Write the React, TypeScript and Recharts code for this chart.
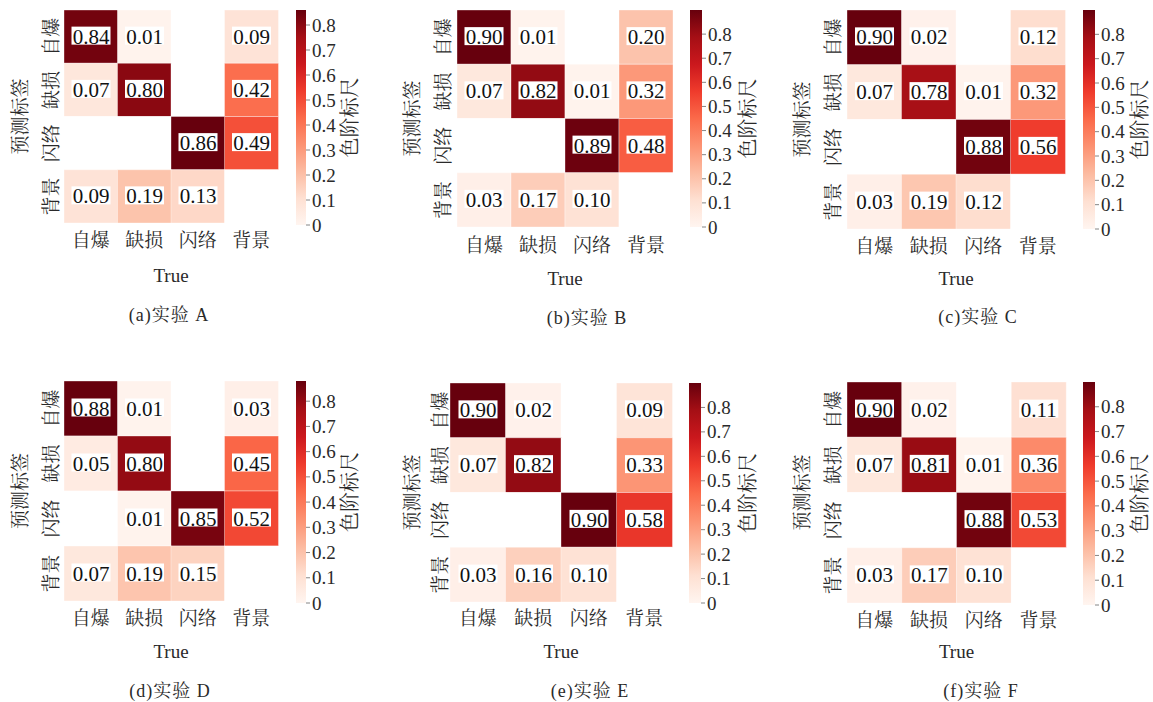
import React from 'react';
import { BarChart, Bar, XAxis, YAxis, Cell, LabelList, Label } from 'recharts';

const classLabels = ['自爆', '缺损', '闪络', '背景'];

const expA = [
  [0.84, 0.01, 0, 0.09],
  [0.07, 0.8, 0, 0.42],
  [0, 0, 0.86, 0.49],
  [0.09, 0.19, 0.13, 0],
];
const expB = [
  [0.9, 0.01, 0, 0.2],
  [0.07, 0.82, 0.01, 0.32],
  [0, 0, 0.89, 0.48],
  [0.03, 0.17, 0.1, 0],
];
const expC = [
  [0.9, 0.02, 0, 0.12],
  [0.07, 0.78, 0.01, 0.32],
  [0, 0, 0.88, 0.56],
  [0.03, 0.19, 0.12, 0],
];
const expD = [
  [0.88, 0.01, 0, 0.03],
  [0.05, 0.8, 0, 0.45],
  [0, 0.01, 0.85, 0.52],
  [0.07, 0.19, 0.15, 0],
];
const expE = [
  [0.9, 0.02, 0, 0.09],
  [0.07, 0.82, 0, 0.33],
  [0, 0, 0.9, 0.58],
  [0.03, 0.16, 0.1, 0],
];
const expF = [
  [0.9, 0.02, 0, 0.11],
  [0.07, 0.81, 0.01, 0.36],
  [0, 0, 0.88, 0.53],
  [0.03, 0.17, 0.1, 0],
];

const captions = ['(a)实验 A', '(b)实验 B', '(c)实验 C', '(d)实验 D', '(e)实验 E', '(f)实验 F'];
const colorbarTicks = [0, 0.1, 0.2, 0.3, 0.4, 0.5, 0.6, 0.7, 0.8];
const yTitle = '预测标签';
const xTitle = 'True';
const cbTitle = '色阶标尺';

const REDS = ['#fff5f0', '#fee0d2', '#fcbba1', '#fc9272', '#fb6a4a', '#ef3b2c', '#cb181d', '#a50f15', '#67000d'];
const SERIF = "'Liberation Serif', 'Noto Serif CJK SC', 'Noto Sans CJK SC', serif";
const TXT = '#2a2a2a';

function hexToRgb(h: string) {
  return [parseInt(h.slice(1, 3), 16), parseInt(h.slice(3, 5), 16), parseInt(h.slice(5, 7), 16)];
}
function reds(t: number) {
  const tt = Math.max(0, Math.min(1, t)) * (REDS.length - 1);
  const lo = Math.floor(tt);
  const hi = Math.min(REDS.length - 1, lo + 1);
  const f = tt - lo;
  const a = hexToRgb(REDS[lo]);
  const b = hexToRgb(REDS[hi]);
  const c = a.map((v, k) => Math.round(v + (b[k] - v) * f));
  return `rgb(${c[0]},${c[1]},${c[2]})`;
}

type Geo = {
  hx: number; hy: number; hw: number; hh: number;
  cbx: number; cbw: number; cbTop: number; cbBot: number;
  ylabX: number; rowLabX: number; colLabY: number; trueY: number;
  capX: number; capY: number; cbLabX: number;
};

const geos: Geo[] = [
  { hx: 64, hy: 10, hw: 214, hh: 213, cbx: 296, cbw: 10, cbTop: 10, cbBot: 225, ylabX: 20, rowLabX: 51, colLabY: 240, trueY: 275, capX: 169, capY: 315, cbLabX: 350 },
  { hx: 457, hy: 10, hw: 216, hh: 217, cbx: 690, cbw: 12, cbTop: 10, cbBot: 227, ylabX: 412, rowLabX: 443, colLabY: 245, trueY: 278, capX: 587, capY: 318, cbLabX: 748 },
  { hx: 847, hy: 10, hw: 218, hh: 219, cbx: 1083, cbw: 12, cbTop: 10, cbBot: 229, ylabX: 802, rowLabX: 833, colLabY: 246, trueY: 278, capX: 978, capY: 317, cbLabX: 1140 },
  { hx: 64, hy: 381, hw: 214, hh: 220, cbx: 296, cbw: 10, cbTop: 381, cbBot: 603, ylabX: 20, rowLabX: 51, colLabY: 618, trueY: 651, capX: 170, capY: 691, cbLabX: 350 },
  { hx: 450, hy: 383, hw: 222, hh: 219, cbx: 689, cbw: 12, cbTop: 383, cbBot: 603, ylabX: 412, rowLabX: 440, colLabY: 618, trueY: 651, capX: 590, capY: 691, cbLabX: 748 },
  { hx: 847, hy: 382, hw: 219, hh: 221, cbx: 1083, cbw: 12, cbTop: 382, cbBot: 605, ylabX: 802, rowLabX: 833, colLabY: 620, trueY: 651, capX: 981, capY: 691, cbLabX: 1140 },
];

const matrices = [expA, expB, expC, expD, expE, expF];

function Panel({ matrix, caption, g, id }: { matrix: number[][]; caption: string; g: Geo; id: number }) {
  const vmax = Math.max(...matrix.flat());
  const data = classLabels.map((name, j) => {
    const o: any = { name };
    matrix.forEach((row, i) => {
      o['r' + i] = 1;
      o['v' + i] = row[j];
    });
    return o;
  });
  const YW = 64;
  const L0 = g.hx - YW;
  const T0 = g.hy - 5;
  const XH = 70;
  const W = YW + g.hw + 5;
  const H = 5 + g.hh + XH + 5;

  const renderValue = (props: any) => {
    const { x, y, width, height, value } = props;
    if (!value) return null;
    const cx = Number(x) + Number(width) / 2;
    const cy = Number(y) + Number(height) / 2 - 1;
    return (
      <g>
        <rect x={cx - 19.5} y={cy - 9} width={39} height={18} fill="#ffffff" />
        <text x={cx} y={cy + 1} textAnchor="middle" dominantBaseline="central" fontSize={21} fill="#111" fontFamily={SERIF}>
          {Number(value).toFixed(2)}
        </text>
      </g>
    );
  };

  const cbH = g.cbBot - g.cbTop;
  const CBW = 75;
  const PADB = 16;
  const stops = REDS.map((c, k) => ({ c, off: k / (REDS.length - 1) })).reverse();

  return (
    <>
      <div style={{ position: 'absolute', left: L0, top: T0 }}>
        <BarChart width={W} height={H} data={data} margin={{ top: 5, right: 5, left: 0, bottom: 5 }} barCategoryGap={0} barGap={0}>
          <XAxis
            dataKey="name"
            type="category"
            height={XH}
            axisLine={false}
            tickLine={false}
            interval={0}
            tick={(p: any) => (
              <text x={p.x} y={g.colLabY - T0} textAnchor="middle" dominantBaseline="central" fontSize={19} fill={TXT} fontFamily={SERIF}>
                {p.payload.value}
              </text>
            )}
          >
            <Label
              content={() => (
                <text x={YW + g.hw / 2} y={g.trueY - T0} textAnchor="middle" dominantBaseline="central" fontSize={19} fill={TXT} fontFamily={SERIF}>
                  {xTitle}
                </text>
              )}
            />
          </XAxis>
          <YAxis
            type="number"
            domain={[0, 4]}
            reversed
            ticks={[0.5, 1.5, 2.5, 3.5]}
            width={YW}
            axisLine={false}
            tickLine={false}
            interval={0}
            tick={(p: any) => {
              const tx = g.rowLabX - L0;
              return (
                <text x={tx} y={p.y} transform={`rotate(-90 ${tx} ${p.y})`} textAnchor="middle" dominantBaseline="central" fontSize={19} fill={TXT} fontFamily={SERIF}>
                  {classLabels[Math.floor(p.payload.value)]}
                </text>
              );
            }}
          >
            <Label
              content={() => {
                const tx = g.ylabX - L0;
                const ty = 5 + g.hh / 2;
                return (
                  <text x={tx} y={ty} transform={`rotate(-90 ${tx} ${ty})`} textAnchor="middle" dominantBaseline="central" fontSize={19} fill={TXT} fontFamily={SERIF}>
                    {yTitle}
                  </text>
                );
              }}
            />
          </YAxis>
          {matrix.map((row, i) => (
            <Bar key={i} dataKey={'r' + i} stackId="s" isAnimationActive={false}>
              {data.map((d: any, j: number) => (
                <Cell key={j} fill={d['v' + i] > 0 ? reds(d['v' + i] / vmax) : '#ffffff'} stroke="#ffffff" strokeOpacity={0.45} strokeWidth={0.8} />
              ))}
              <LabelList dataKey={'v' + i} content={renderValue} />
            </Bar>
          ))}
        </BarChart>
      </div>
      <div style={{ position: 'absolute', left: g.cbx, top: g.cbTop - 5 }}>
        <BarChart width={g.cbw + CBW} height={cbH + 5 + PADB} data={[{ name: 'cb', v: vmax }]} margin={{ top: 5, right: 0, left: 0, bottom: PADB }} barCategoryGap={0}>
          <defs>
            <linearGradient id={'cbgrad' + id} x1="0" y1="0" x2="0" y2="1">
              {stops.map((s, k) => (
                <stop key={k} offset={1 - s.off} stopColor={s.c} />
              ))}
            </linearGradient>
          </defs>
          <XAxis dataKey="name" hide />
          <YAxis
            orientation="right"
            type="number"
            domain={[0, vmax]}
            ticks={colorbarTicks}
            interval={0}
            width={CBW}
            axisLine={false}
            tickSize={4}
            tickMargin={2}
            tickLine={{ stroke: '#666', strokeWidth: 0.8 }}
            tick={(p: any) => (
              <text x={p.x} y={p.y} textAnchor="start" dominantBaseline="central" fontSize={19} fill={TXT} fontFamily={SERIF}>
                {p.payload.value === 0 ? '0' : Number(p.payload.value).toFixed(1)}
              </text>
            )}
          >
            <Label
              content={() => {
                const tx = g.cbLabX - g.cbx;
                const ty = 5 + cbH / 2;
                return (
                  <text x={tx} y={ty} transform={`rotate(-90 ${tx} ${ty})`} textAnchor="middle" dominantBaseline="central" fontSize={20} fill={TXT} fontFamily={SERIF}>
                    {cbTitle}
                  </text>
                );
              }}
            />
          </YAxis>
          <Bar dataKey="v" fill={`url(#cbgrad${id})`} isAnimationActive={false} />
        </BarChart>
      </div>
      <div
        style={{
          position: 'absolute',
          left: g.capX - 100,
          top: g.capY - 11,
          width: 200,
          height: 22,
          lineHeight: '22px',
          textAlign: 'center',
          fontSize: 18,
          letterSpacing: 1,
          color: TXT,
          fontFamily: SERIF,
        }}
      >
        {caption}
      </div>
    </>
  );
}

export default function App() {
  return (
    <div style={{ position: 'absolute', left: 0, top: 0, width: 1153, height: 702, background: '#ffffff', overflow: 'hidden' }}>
      {matrices.map((m, k) => (
        <Panel key={k} matrix={m} caption={captions[k]} g={geos[k]} id={k} />
      ))}
    </div>
  );
}
